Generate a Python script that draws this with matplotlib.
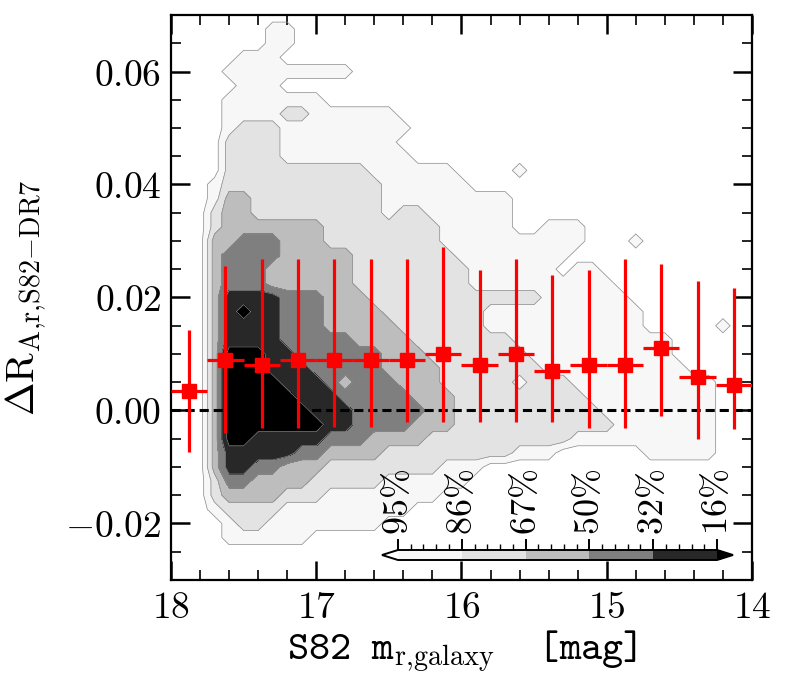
import matplotlib
matplotlib.use("Agg")
import matplotlib.pyplot as plt
import numpy as np
from matplotlib.colors import ListedColormap, BoundaryNorm
from matplotlib.cm import ScalarMappable
from matplotlib.ticker import FuncFormatter, MultipleLocator, FixedLocator

plt.rcParams["mathtext.fontset"] = "cm"
plt.rcParams["font.family"] = ["DejaVu Serif"]

# --- binned medians (red squares) ---
bin_mag = [17.875, 17.625, 17.375, 17.125, 16.875, 16.625, 16.375, 16.125,
           15.875, 15.625, 15.375, 15.125, 14.875, 14.625, 14.375, 14.125]
bin_med = [0.0035, 0.0090, 0.0080, 0.0090, 0.0090, 0.0090, 0.0090, 0.0100,
           0.0080, 0.0100, 0.0070, 0.0080, 0.0080, 0.0110, 0.0060, 0.0045]
bin_hi = [0.0143, 0.0256, 0.0269, 0.0269, 0.0269, 0.0269, 0.0269, 0.0290,
          0.0249, 0.0269, 0.0240, 0.0249, 0.0269, 0.0259, 0.0229, 0.0216]
bin_lo = [-0.0073, -0.0039, -0.0031, -0.0031, -0.0029, -0.0029, -0.0021, -0.0021,
          -0.0021, -0.0021, -0.0021, -0.0031, -0.0031, -0.0010, -0.0050, -0.0032]
bin_halfwidth = 0.125

# --- density levels (0 = outside 95%, 6 = inside 16%) ---
# columns: mag 18.0 -> 14.0 in steps of 0.1; rows: 0.070 -> -0.030 in steps of 0.0025
grid_mag = np.round(np.arange(18.0, 13.95, -0.1), 2)
grid_val = np.round(np.arange(0.070, -0.03001, -0.0025), 4)
density_rows = [
    "00000000000000000000000000000000000000000",
    "00000001100000000000000000000000000000000",
    "00000001100000000000000000000000000000000",
    "00000111000000000000000000000000000000000",
    "00001111111110000000000000000000000000000",
    "00000111000000000000000000000000000000000",
    "00001111111000000000000000000000000000000",
    "00001111221111110000000000000000000000000",
    "00001222111111111000000000000000000000000",
    "00002222111111110000000000000000000000000",
    "00002222111111111000000000000000000000000",
    "00002222222222111111000010000000000000000",
    "00012222222222211111100000000000000000000",
    "00013322222222211111111100000000000000000",
    "00023322222222212211111100000000000000000",
    "00023333333222222221111100111000000000000",
    "00033444333222222221111111111000100000000",
    "00034444333332222222111111110000000000000",
    "00034443333332222222211111101100000000000",
    "00034443333332222222211111111110000000000",
    "00035555444333222222222222111111000000000",
    "00035655444333322222221111111111100000000",
    "00035555444333332222221111111111100000100",
    "00035555444443333222222211111111111000000",
    "00036665544444433322222221111111111000000",
    "00036665554444433332222222111111111100000",
    "00036666555434443332222212221111111111000",
    "00036666655544444333222222222111111111000",
    "00036666665554444433222222222211111111000",
    "00036666666554444333222222222221111111000",
    "00036655555444333322222222221111111111000",
    "00035555544333322222222211100000011111000",
    "00035544333222222221110000000000000000000",
    "00024433332222211111100000000000000000000",
    "00023333222111111110000000000000000000000",
    "00012222111111111000000000000000000000000",
    "00001221111111100000000000000000000000000",
    "00001111110000000000000000000000000000000",
    "00000000000000000000000000000000000000000",
    "00000000000000000000000000000000000000000",
    "00000000000000000000000000000000000000000",
]
level_labels = ["95", "86", "67", "50", "32", "16"]
fill_colors = ["#ffffff", "#f7f7f7", "#e3e3e3", "#bdbdbd", "#7f7f7f", "#282828", "#000000"]

density = np.array([[int(c) for c in row] for row in density_rows], dtype=float)

fig = plt.figure(figsize=(7.87, 6.82), dpi=100)
ax = fig.add_axes([0.2173, 0.1496, 0.7382, 0.8284])

X, Y = np.meshgrid(grid_mag[::-1], grid_val[::-1])
Z = density[::-1, ::-1]
ax.contourf(X, Y, Z, levels=[-0.5, 0.5, 1.5, 2.5, 3.5, 4.5, 5.5, 6.5],
            colors=fill_colors, zorder=1)
ax.contour(X, Y, Z, levels=[0.5, 1.5, 2.5, 3.5, 4.5, 5.5],
           colors="#8a8a8a", linewidths=0.5, zorder=2)

ax.axhline(0.0, color="k", lw=2.2, ls=(0, (3.0, 1.6)), zorder=3)

med = np.array(bin_med)
yerr = [med - np.array(bin_lo), np.array(bin_hi) - med]
ax.errorbar(bin_mag, bin_med, xerr=bin_halfwidth, yerr=yerr, fmt="s",
            color="red", mec="red", ms=9.5, elinewidth=2.3, capsize=0, zorder=4)

ax.set_xlim(18, 14)
ax.set_ylim(-0.03, 0.07)
ax.xaxis.set_major_locator(MultipleLocator(1))
ax.xaxis.set_minor_locator(MultipleLocator(0.2))
ax.yaxis.set_major_locator(MultipleLocator(0.02))
ax.yaxis.set_minor_locator(MultipleLocator(0.005))
ax.xaxis.set_major_formatter(FuncFormatter(lambda v, p: r"$%d$" % round(v)))
ax.yaxis.set_major_formatter(FuncFormatter(lambda v, p: r"$%.2f$" % v))
ax.tick_params(which="both", direction="in", top=True, right=True, labelsize=27)
ax.tick_params(which="major", length=14, width=1.8, pad=7)
ax.tick_params(which="minor", length=7, width=1.2)
for sp in ax.spines.values():
    sp.set_linewidth(1.6)

ax.set_xlabel(r"S82 m$_{\rm r{,}galaxy}$  [mag]", fontfamily="cmtt10", fontsize=29, labelpad=2)
ax.set_ylabel(r"$\Delta{\rm R}_{\rm A{,}r{,}S82{-}DR7}$", fontsize=29, labelpad=12)

# colorbar inset
cax = fig.add_axes([382 / 787, (682 - 560) / 682, 351 / 787, 10 / 682])
cmap = ListedColormap(fill_colors[1:6])
cmap.set_under(fill_colors[0])
cmap.set_over(fill_colors[6])
norm = BoundaryNorm([0, 1, 2, 3, 4, 5], cmap.N)
cb = fig.colorbar(ScalarMappable(norm=norm, cmap=cmap), cax=cax, orientation="horizontal",
                  extend="both", extendfrac=0.05)
cb.outline.set_linewidth(1.4)
cax.xaxis.set_ticks_position("top")
cb.set_ticks([0, 1, 2, 3, 4, 5], labels=[r"$%s\%%$" % s for s in level_labels])
cax.xaxis.set_minor_locator(FixedLocator([k + 0.2 * m for k in range(5) for m in range(1, 5)]))
cax.tick_params(which="major", direction="out", length=8, width=1.4, pad=3,
                labelsize=26, labelrotation=90)
cax.tick_params(which="minor", direction="out", length=4, width=1.0)

fig.savefig("out.png", dpi=100)
